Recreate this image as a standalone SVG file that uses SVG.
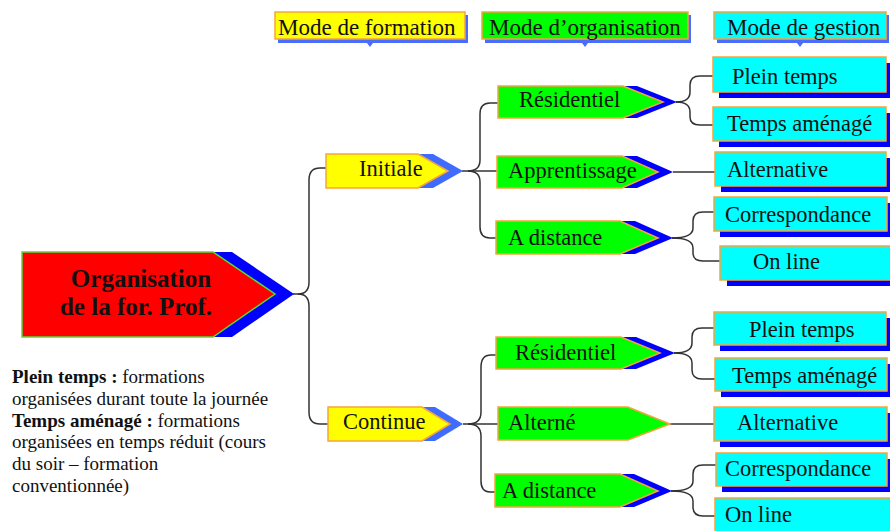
<svg xmlns="http://www.w3.org/2000/svg" width="890" height="531" viewBox="0 0 890 531">
<style>
text{font-family:"Liberation Serif","Times New Roman",serif;fill:#111}
.t{font-size:22.5px}
.h{font-size:23px}
.lg{font-size:19px}
.b{font-weight:bold}
.or{stroke:#f5a53a;stroke-width:1.5}
.yl{fill:#ffff00}
.gr{fill:#00ff00}
.cy{fill:#00ffff}
.bl{fill:#0000ff}
.lb{fill:#3f6bff}
.sh{fill:#0000ff}
.hs{fill:#4a6cff}
.c{fill:none;stroke:#333;stroke-width:1.5}
</style>
<rect width="890" height="531" fill="#fff"/>

<g id="headers">
  <g id="h-formation">
    <polygon class="hs" points="278,15 468,15 468,43 373,43 370,47 367,43 278,43"/>
    <rect class="yl or" x="275" y="12" width="190" height="27"/>
    <text class="h" x="278" y="35">Mode de formation</text>
  </g>
  <g id="h-organisation">
    <polygon class="hs" points="485,15 691,15 691,43 588,43 585,47 582,43 485,43"/>
    <rect class="gr or" x="482" y="12" width="206" height="27"/>
    <text class="h" x="489" y="35">Mode d’organisation</text>
  </g>
  <g id="h-gestion">
    <polygon class="hs" points="717,15 889,15 889,43 803,43 800,47 797,43 717,43"/>
    <rect class="cy or" x="714" y="12" width="172" height="27"/>
    <text class="h" x="727" y="35">Mode de gestion</text>
  </g>
</g>

<g id="connectors">
  <path class="c" d="M293,294 H298 Q309,294 309,282 V180 Q309,168 320,168 H327"/>
  <path class="c" d="M298,294 Q309,294 309,306 V412 Q309,424 320,424 H329"/>
  <path class="c" d="M462,171 H497"/>
  <path class="c" d="M468,171 Q480,171 480,160 V114 Q480,103 490,103 H498"/>
  <path class="c" d="M468,171 Q480,171 480,182 V227 Q480,238 490,238 H497"/>
  <path class="c" d="M676,102 Q690,102 690,92 V85 Q690,76 700,76 H713"/>
  <path class="c" d="M676,102 Q690,102 690,112 V117 Q690,125 700,125 H713"/>
  <path class="c" d="M673,172 H715"/>
  <path class="c" d="M672,238 Q693,238 693,228 V221 Q693,212 703,212 H714"/>
  <path class="c" d="M672,238 Q693,238 693,248 V253 Q693,261 703,261 H720"/>
  <path class="c" d="M463,424 H498"/>
  <path class="c" d="M468,424 Q481,424 481,412 V367 Q481,355 491,355 H497"/>
  <path class="c" d="M468,424 Q481,424 481,436 V481 Q481,492 490,492 H496"/>
  <path class="c" d="M674,353 Q692,353 692,343 V337 Q692,328 702,328 H714"/>
  <path class="c" d="M674,353 Q692,353 692,363 V370 Q692,379 702,379 H715"/>
  <path class="c" d="M670,424 H714"/>
  <path class="c" d="M671,491 Q693,491 693,481 V474 Q693,465 703,465 H716"/>
  <path class="c" d="M671,491 Q693,491 693,501 V507 Q693,516 703,516 H715"/>
</g>

<g id="main">
  <polygon class="bl" points="41,252 232,252 294,294 232,337 41,337"/>
  <polygon fill="#ff0000" stroke="#55dd33" stroke-width="1.5" points="22,252 213,252 275,294 213,337 22,337"/>
  <text class="b" font-size="25" x="141" y="287" text-anchor="middle">Organisation</text>
  <text class="b" font-size="25" x="136" y="315" text-anchor="middle">de la for. Prof.</text>
</g>

<g id="initiale">
  <polygon class="lb" points="341,154 433,154 463,171 433,188 341,188"/>
  <polygon class="yl or" points="326,154 418,154 448,171 418,188 326,188"/>
  <text class="t" x="359" y="176">Initiale</text>
</g>

<g id="continue">
  <polygon class="lb" points="341,407 435,407 463,424 435,441 341,441"/>
  <polygon class="yl or" points="328,407 422,407 450,424 422,441 328,441"/>
  <text class="t" x="343" y="429">Continue</text>
</g>

<g id="residentiel-1">
  <polygon class="bl" points="512,86 637,86 677,102 637,118 512,118"/>
  <polygon class="gr or" points="498,86 623,86 663,102 623,118 498,118"/>
  <text class="t" x="519" y="107">Résidentiel</text>
</g>
<g id="apprentissage">
  <polygon class="bl" points="512,156 637,156 673,172 637,188 512,188"/>
  <polygon class="gr or" points="497,156 622,156 658,172 622,188 497,188"/>
  <text class="t" x="508" y="178">Apprentissage</text>
</g>
<g id="distance-1">
  <polygon class="bl" points="511,221 635,221 673,238 635,254 511,254"/>
  <polygon class="gr or" points="496,221 620,221 658,238 620,254 496,254"/>
  <text class="t" x="508" y="245">A distance</text>
</g>
<g id="residentiel-2">
  <polygon class="bl" points="511,337 636,337 675,353 636,369 511,369"/>
  <polygon class="gr or" points="496,337 621,337 660,353 621,369 496,369"/>
  <text class="t" x="515" y="360">Résidentiel</text>
</g>
<g id="alterne">
  <polygon class="gr or" points="498,407 628,407 670,424 628,440 498,440"/>
  <text class="t" x="508" y="430">Alterné</text>
</g>
<g id="distance-2">
  <polygon class="bl" points="509,474 634,474 672,491 634,507 509,507"/>
  <polygon class="gr or" points="495,474 620,474 658,491 620,507 495,507"/>
  <text class="t" x="502" y="498">A distance</text>
</g>

<g id="plein-1">
  <rect class="sh" x="719" y="63" width="173" height="35"/>
  <rect class="cy or" x="713" y="57" width="173" height="35"/>
  <text class="t" x="732" y="84">Plein temps</text>
</g>
<g id="amenage-1">
  <rect class="sh" x="719" y="113" width="173" height="34"/>
  <rect class="cy or" x="713" y="107" width="173" height="34"/>
  <text class="t" x="727" y="131">Temps aménagé</text>
</g>
<g id="alternative-1">
  <rect class="sh" x="721" y="158" width="171" height="34"/>
  <rect class="cy or" x="715" y="152" width="171" height="34"/>
  <text class="t" x="727" y="177">Alternative</text>
</g>
<g id="correspondance-1">
  <rect class="sh" x="720" y="203" width="173" height="34"/>
  <rect class="cy or" x="714" y="197" width="173" height="34"/>
  <text class="t" x="725" y="222">Correspondance</text>
</g>
<g id="online-1">
  <rect class="sh" x="727" y="252" width="175" height="34"/>
  <rect class="cy or" x="720" y="246" width="175" height="34"/>
  <text class="t" x="753" y="269">On line</text>
</g>
<g id="plein-2">
  <rect class="sh" x="720" y="318" width="172" height="33"/>
  <rect class="cy or" x="714" y="312" width="172" height="33"/>
  <text class="t" x="749" y="337">Plein temps</text>
</g>
<g id="amenage-2">
  <rect class="sh" x="721" y="364" width="172" height="33"/>
  <rect class="cy or" x="715" y="358" width="172" height="33"/>
  <text class="t" x="732" y="383">Temps aménagé</text>
</g>
<g id="alternative-2">
  <rect class="sh" x="720" y="413" width="173" height="34"/>
  <rect class="cy or" x="714" y="407" width="173" height="34"/>
  <text class="t" x="737" y="430">Alternative</text>
</g>
<g id="correspondance-2">
  <rect class="sh" x="722" y="459" width="171" height="33"/>
  <rect class="cy or" x="716" y="453" width="171" height="33"/>
  <text class="t" x="725" y="476">Correspondance</text>
</g>
<g id="online-2">
  <rect class="sh" x="721" y="504" width="175" height="35"/>
  <rect class="cy or" x="715" y="498" width="175" height="35"/>
  <text class="t" x="725" y="522">On line</text>
</g>

<g id="legend">
  <text class="lg" x="12" y="383"><tspan class="b">Plein temps :</tspan> formations</text>
  <text class="lg" x="12" y="405">organisées durant toute la journée</text>
  <text class="lg" x="12" y="427"><tspan class="b">Temps aménagé :</tspan> formations</text>
  <text class="lg" x="12" y="448">organisées en temps réduit (cours</text>
  <text class="lg" x="12" y="470">du soir – formation</text>
  <text class="lg" x="12" y="492">conventionnée)</text>
</g>
</svg>
